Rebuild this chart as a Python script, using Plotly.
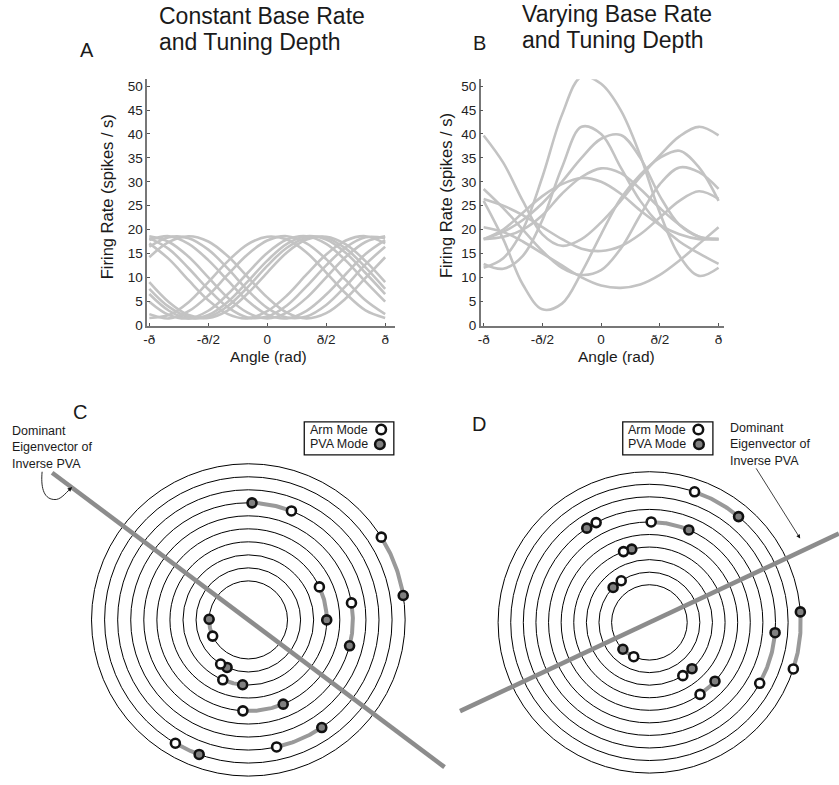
import numpy as np
import plotly.graph_objects as go

# ---------------- data ----------------
ANGLES_DEG = [-180, -150, -120, -90, -60, -30, 0, 30, 60, 90, 120, 150, 180]

# Panel A: firing rates (spikes/s) read at the sample angles
A_RATES = [
    [18.6, 17.4, 14.3, 10.0, 5.7, 2.6, 1.4, 2.6, 5.7, 10.0, 14.3, 17.4, 18.6],
    [18.2, 15.9, 11.9, 7.5, 3.7, 1.6, 1.8, 4.1, 8.1, 12.5, 16.3, 18.4, 18.2],
    [17.1, 13.8, 9.4, 5.2, 2.3, 1.4, 2.9, 6.2, 10.6, 14.8, 17.7, 18.6, 17.1],
    [9.0, 4.8, 2.1, 1.5, 3.1, 6.6, 11.0, 15.2, 17.9, 18.5, 16.9, 13.4, 9.0],
    [7.6, 3.8, 1.7, 1.7, 4.0, 7.9, 12.4, 16.2, 18.3, 18.3, 16.0, 12.1, 7.6],
    [6.5, 3.0, 1.4, 2.1, 4.9, 9.1, 13.5, 17.0, 18.6, 17.9, 15.1, 10.9, 6.5],
    [4.9, 2.1, 1.4, 3.0, 6.5, 10.9, 15.1, 17.9, 18.6, 17.0, 13.5, 9.1, 4.9],
    [2.3, 1.4, 2.9, 6.2, 10.6, 14.8, 17.7, 18.6, 17.1, 13.8, 9.4, 5.2, 2.3],
    [1.5, 2.1, 4.8, 9.0, 13.4, 16.9, 18.5, 17.9, 15.2, 11.0, 6.6, 3.1, 1.5],
    [14.2, 17.4, 18.6, 17.5, 14.4, 10.1, 5.8, 2.6, 1.4, 2.5, 5.6, 9.9, 14.2],
    [16.4, 18.4, 18.2, 15.8, 11.8, 7.3, 3.6, 1.6, 1.8, 4.2, 8.2, 12.7, 16.4],
    [17.8, 18.6, 17.0, 13.6, 9.3, 5.1, 2.2, 1.4, 3.0, 6.4, 10.7, 14.9, 17.8],
]

# Panel B
B_RATES = [
    [12.0, 14.0, 20.0, 31.0, 44.0, 52.0, 50.5, 45.0, 35.5, 23.5, 14.5, 10.3, 12.0],
    [12.8, 11.8, 14.5, 22.0, 33.0, 41.5, 40.0, 33.0, 26.0, 21.0, 17.5, 15.0, 12.8],
    [26.0, 18.0, 8.5, 3.3, 4.5, 11.0, 19.0, 26.5, 31.5, 35.0, 36.5, 33.0, 26.0],
    [18.0, 19.5, 22.0, 25.5, 30.0, 35.0, 39.0, 39.8, 35.0, 27.0, 21.0, 18.5, 18.0],
    [39.7, 34.0, 26.0, 19.0, 16.6, 18.0, 21.5, 26.0, 31.0, 35.5, 39.5, 41.5, 39.7],
    [18.0, 18.5, 20.0, 23.0, 27.5, 31.0, 32.8, 31.8, 28.5, 24.5, 21.0, 18.5, 18.0],
    [18.0, 20.0, 23.5, 27.0, 29.5, 30.8, 30.0, 27.5, 24.0, 21.0, 19.0, 18.0, 18.0],
    [28.5, 24.5, 20.0, 15.5, 12.0, 10.5, 11.5, 16.0, 23.0, 29.5, 33.0, 32.0, 28.5],
    [20.5, 19.5, 17.5, 15.0, 12.5, 10.0, 8.3, 7.8, 8.5, 10.5, 13.5, 17.0, 20.5],
    [26.4, 25.0, 23.0, 20.5, 18.0, 16.0, 15.5, 16.5, 19.0, 22.5, 26.0, 28.0, 26.4],
]

RATE_TICKS = [0, 5, 10, 15, 20, 25, 30, 35, 40, 45, 50]
ANGLE_TICK_DEG = [-180, -90, 0, 90, 180]
ANGLE_TICK_TEXT = ["-ð", "-ð/2", "0", "ð/2", "ð"]

RING_RADII = [3, 4, 5, 6, 7, 8, 9, 10, 11, 12]

# Panel C: per ring, angle (deg) of arm mode and PVA mode
C_RING = [3, 4, 5, 6, 7, 8, 9, 10, 11, 12]
C_ARM_DEG = [204.5, 238, 247, 25, 266.6, 9.4, 68.5, 282.5, 239.5, 32]
C_PVA_DEG = [179, 246, 265, 0, 292.4, -14.4, 88.2, 304.2, 250, 9]
C_EIG_DEG = 143.0
C_EIG_HALF = 18.8

# Panel D
D_RING = [3, 4, 5, 6, 7, 8, 9, 10, 11, 12]
D_ARM_DEG = [245.5, 124, -58, 110, -55, 89, 118, -29, 71, -18]
D_PVA_DEG = [225.5, 136, -47.5, 103.5, -42, 67, 123.5, -4.7, 50, 4]
D_EIG_DEG = 25.2
D_EIG_HALF = 16.6

# ---------------- helpers ----------------
W, H = 839, 785


def px(x):
    return x / W


def py(y):
    return 1 - y / H


FONT = "Arial, Liberation Sans, sans-serif"
TXT = "#1a1a1a"
CURVE = "#c3c3c3"

theta = np.deg2rad(ANGLES_DEG)
fig = go.Figure()

for r in A_RATES:
    fig.add_trace(go.Scatter(x=theta, y=r, mode="lines", xaxis="x", yaxis="y",
                             line=dict(color=CURVE, width=2.6, shape="spline"),
                             hoverinfo="skip", showlegend=False))
for r in B_RATES:
    fig.add_trace(go.Scatter(x=theta, y=r, mode="lines", xaxis="x2", yaxis="y2",
                             line=dict(color=CURVE, width=2.6, shape="spline"),
                             hoverinfo="skip", showlegend=False))


def add_modes(rings, arm, pva, eig_deg, eig_half, xa, ya):
    a = np.deg2rad(eig_deg)
    fig.add_trace(go.Scatter(x=[-eig_half * np.cos(a), eig_half * np.cos(a)],
                             y=[-eig_half * np.sin(a), eig_half * np.sin(a)],
                             mode="lines", xaxis=xa, yaxis=ya,
                             line=dict(color="#8c8c8c", width=4.5),
                             hoverinfo="skip", showlegend=False))
    for rr, a1, a2 in zip(rings, arm, pva):
        t = np.deg2rad(np.linspace(a1, a2, 40))
        fig.add_trace(go.Scatter(x=rr * np.cos(t), y=rr * np.sin(t), mode="lines",
                                 xaxis=xa, yaxis=ya,
                                 line=dict(color="#999999", width=4),
                                 hoverinfo="skip", showlegend=False))
    rr = np.array(rings, dtype=float)
    tp = np.deg2rad(pva)
    ta = np.deg2rad(arm)
    fig.add_trace(go.Scatter(x=rr * np.cos(tp), y=rr * np.sin(tp), mode="markers",
                             xaxis=xa, yaxis=ya,
                             marker=dict(size=9, color="#808080",
                                         line=dict(color="#111111", width=2.6)),
                             hoverinfo="skip", showlegend=False))
    fig.add_trace(go.Scatter(x=rr * np.cos(ta), y=rr * np.sin(ta), mode="markers",
                             xaxis=xa, yaxis=ya,
                             marker=dict(size=9, color="white",
                                         line=dict(color="#111111", width=2.6)),
                             hoverinfo="skip", showlegend=False))


add_modes(C_RING, C_ARM_DEG, C_PVA_DEG, C_EIG_DEG, C_EIG_HALF, "x3", "y3")
add_modes(D_RING, D_ARM_DEG, D_PVA_DEG, D_EIG_DEG, D_EIG_HALF, "x4", "y4")

shapes = []
for xr, yr in (("x3", "y3"), ("x4", "y4")):
    for r in RING_RADII:
        shapes.append(dict(type="circle", xref=xr, yref=yr, x0=-r, x1=r, y0=-r, y1=r,
                           line=dict(color="black", width=1), layer="below"))

# legend boxes
for (bx0, bx1), (kx_arm, kx_pva) in (((301.7, 391.7), (379, 377.7)),
                                      ((621.7, 712.3), (697.7, 698.3))):
    shapes.append(dict(type="rect", xref="paper", yref="paper",
                       x0=px(bx0), x1=px(bx1), y0=py(459), y1=py(425.7),
                       line=dict(color="#111111", width=1.3)))
    for kx, ky, col in ((kx_arm, 433.3, "white"), (kx_pva, 448.3, "#808080")):
        shapes.append(dict(type="circle", xref="paper", yref="paper",
                           xsizemode="pixel", ysizemode="pixel",
                           xanchor=px(kx), yanchor=py(ky),
                           x0=-4.8, x1=4.8, y0=-4.8, y1=4.8,
                           fillcolor=col, line=dict(color="#111111", width=2.5)))

# curved arrow in C
pts = [(38.3, 476), (37, 490), (39, 503), (50, 504), (57, 505), (62, 497), (66, 494)]
p = [(px(a), py(b)) for a, b in pts]
path = "M {} {} C {} {}, {} {}, {} {} C {} {}, {} {}, {} {}".format(
    p[0][0], p[0][1], p[1][0], p[1][1], p[2][0], p[2][1], p[3][0], p[3][1],
    p[4][0], p[4][1], p[5][0], p[5][1], p[6][0], p[6][1])
shapes.append(dict(type="path", xref="paper", yref="paper", path=path,
                   line=dict(color="#111111", width=0.9)))

ann = []


def text(x, y, s, size, xanchor="left", angle=0, yanchor="middle"):
    ann.append(dict(x=px(x), y=py(y), xref="paper", yref="paper", text=s,
                    showarrow=False, xanchor=xanchor, yanchor=yanchor, align="left",
                    textangle=angle, font=dict(family=FONT, size=size, color=TXT)))


text(154, 16, "Constant Base Rate", 23)
text(154, 42, "and Tuning Depth", 23)
text(518, 14, "Varying Base Rate", 23)
text(518, 40, "and Tuning Depth", 23)
text(83, 50, "A", 20, "center")
text(478, 43.5, "B", 20, "center")
text(76, 416, "C", 20, "center")
text(477.5, 428, "D", 20, "center")
text(265.5, 360, "Angle (rad)", 15.5, "center")
text(615.5, 360, "Angle (rad)", 15.5, "center")
text(103.5, 199, "Firing Rate (spikes / s)", 16.5, "center", -90)
text(443.5, 197.5, "Firing Rate (spikes / s)", 16.5, "center", -90)
for x0, yy in ((6, 426), (727, 422.5)):
    text(x0, yy, "Dominant<br>Eigenvector of<br>Inverse PVA", 12.5, "left", 0, "top")
for x0 in (305, 625):
    text(x0, 433.5, "Arm Mode", 12.5)
    text(x0, 448, "PVA Mode", 12.5)

ann.append(dict(x=px(800), y=py(543.3), xref="paper", yref="paper", text="",
                showarrow=True, ax=-45, ay=-71.6, arrowhead=2, arrowsize=1,
                arrowwidth=0.8, arrowcolor="#111111", standoff=0))
ann.append(dict(x=px(68.5), y=py(491.5), xref="paper", yref="paper", text="",
                showarrow=True, ax=-4, ay=3.5, arrowhead=2, arrowsize=1,
                arrowwidth=0.9, arrowcolor="#111111", standoff=0))

tickrad = list(np.deg2rad(ANGLE_TICK_DEG))
common_x = dict(tickvals=tickrad, ticktext=ANGLE_TICK_TEXT, ticks="inside", ticklen=3,
                tickcolor="#555", showline=True, linecolor="#777", linewidth=1.5,
                showgrid=False, zeroline=False, fixedrange=True,
                tickfont=dict(family=FONT, size=13.5, color="#222"))
common_y = dict(tickvals=RATE_TICKS, range=[-0.1, 51.45], ticks="inside", ticklen=3,
                tickcolor="#555", showline=True, linecolor="#777", linewidth=1.5,
                showgrid=False, zeroline=False, fixedrange=True,
                tickfont=dict(family=FONT, size=13.5, color="#222"))

ydom = [py(328.5), py(80)]


def ring_axes(x0p, x1p, y0p, y1p, cx, cy, unit):
    xr = [(x0p - cx) / unit, (x1p - cx) / unit]
    yr = [(cy - y1p) / unit, (cy - y0p) / unit]
    return (dict(domain=[px(x0p), px(x1p)], range=xr, visible=False, fixedrange=True),
            dict(domain=[py(y1p), py(y0p)], range=yr, visible=False, fixedrange=True))


x3, y3 = ring_axes(0, 452, 380, 785, 245.5, 625.5, 13.13)
x4, y4 = ring_axes(425, 839, 380, 785, 648.5, 628.0, 12.67)
x3["anchor"], y3["anchor"] = "y3", "x3"
x4["anchor"], y4["anchor"] = "y4", "x4"

fig.update_layout(
    width=W, height=H, margin=dict(l=0, r=0, t=0, b=0),
    paper_bgcolor="white", plot_bgcolor="rgba(0,0,0,0)",
    showlegend=False,
    xaxis=dict(domain=[px(144), px(393)], range=[-3.195, 3.407], anchor="y", **common_x),
    yaxis=dict(domain=ydom, anchor="x", **common_y),
    xaxis2=dict(domain=[px(479), px(723)], range=[-3.22, 3.275], anchor="y2", **common_x),
    yaxis2=dict(domain=ydom, anchor="x2", **common_y),
    xaxis3=x3, yaxis3=y3, xaxis4=x4, yaxis4=y4,
    shapes=shapes, annotations=ann,
)

fig.write_html("out.html")
